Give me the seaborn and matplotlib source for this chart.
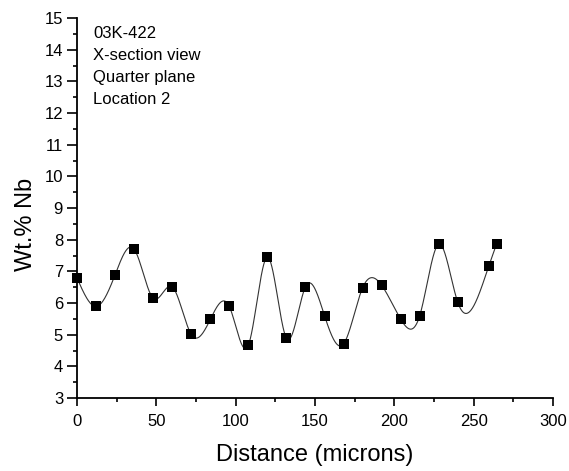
import numpy as np
import pandas as pd
import matplotlib
matplotlib.use("Agg")
import matplotlib.pyplot as plt
import seaborn as sns
from matplotlib.ticker import MultipleLocator

distance = [0, 12, 24, 36, 48, 60, 72, 84, 96, 108, 120, 132, 144, 156, 168,
            180, 192, 204, 216, 228, 240, 259.5, 264.5]
nb_wt = [6.79, 5.89, 6.89, 7.70, 6.15, 6.51, 5.01, 5.48, 5.89, 4.67, 7.45, 4.89,
         6.51, 5.60, 4.71, 6.48, 6.56, 5.49, 5.60, 7.86, 6.02, 7.16, 7.87]
annotation = ["03K-422", "X-section view", "Quarter plane", "Location 2"]


def natural_spline(x, y, n=1500):
    x = np.asarray(x, float)
    y = np.asarray(y, float)
    m = len(x)
    h = np.diff(x)
    A = np.zeros((m, m))
    b = np.zeros(m)
    A[0, 0] = 1
    A[-1, -1] = 1
    for i in range(1, m - 1):
        A[i, i - 1] = h[i - 1]
        A[i, i] = 2 * (h[i - 1] + h[i])
        A[i, i + 1] = h[i]
        b[i] = 6 * ((y[i + 1] - y[i]) / h[i] - (y[i] - y[i - 1]) / h[i - 1])
    M = np.linalg.solve(A, b)
    xs = np.linspace(x[0], x[-1], n)
    idx = np.clip(np.searchsorted(x, xs) - 1, 0, m - 2)
    x0, x1 = x[idx], x[idx + 1]
    hi = x1 - x0
    ys = (M[idx] * (x1 - xs) ** 3 / (6 * hi) + M[idx + 1] * (xs - x0) ** 3 / (6 * hi)
          + (y[idx] / hi - M[idx] * hi / 6) * (x1 - xs)
          + (y[idx + 1] / hi - M[idx + 1] * hi / 6) * (xs - x0))
    return xs, ys


sns.set_theme(style="ticks")
plt.rcParams['font.family'] = ['Liberation Sans', 'DejaVu Sans']
plt.rcParams['text.color'] = 'black'
plt.rcParams['axes.labelcolor'] = 'black'

df = pd.DataFrame({"Distance": distance, "Nb": nb_wt})
xs, ys = natural_spline(distance, nb_wt)
curve = pd.DataFrame({"Distance": xs, "Nb": ys})

fig = plt.figure(figsize=(5.69, 4.71), dpi=100)
ax = fig.add_axes([77 / 569, 73 / 471, 476 / 569, 380 / 471])

sns.lineplot(data=curve, x="Distance", y="Nb", ax=ax, color="#333333",
             linewidth=0.8, sort=False, estimator=None)
sns.scatterplot(data=df, x="Distance", y="Nb", ax=ax, marker="s", color="black",
                s=50, edgecolor="black", linewidth=0, clip_on=False, zorder=3)

ax.set_xlim(0, 300)
ax.set_ylim(3, 15)
ax.xaxis.set_major_locator(MultipleLocator(50))
ax.xaxis.set_minor_locator(MultipleLocator(25))
ax.yaxis.set_major_locator(MultipleLocator(1))
ax.yaxis.set_minor_locator(MultipleLocator(0.5))
ax.tick_params(which="both", direction="out", width=1.2, colors="black",
               labelcolor="black", labelsize=12)
ax.tick_params(axis="x", which="major", length=5.5, pad=6)
ax.tick_params(axis="y", which="major", length=7, pad=3)
ax.tick_params(which="minor", length=3.2)
sns.despine(ax=ax)
for s in ["left", "bottom"]:
    ax.spines[s].set_linewidth(1.3)
    ax.spines[s].set_color("black")

ax.set_xlabel("Distance (microns)", fontsize=17, labelpad=11)
ax.set_ylabel("Wt.% Nb", fontsize=17)
ax.yaxis.set_label_coords(-0.085, 0.458)

for i, line in enumerate(annotation):
    ax.text(16 / 476, 1 - (15 + 22.2 * i) / 380, line, transform=ax.transAxes,
            fontsize=12, va="center", ha="left")

fig.savefig("out.png", dpi=100)
